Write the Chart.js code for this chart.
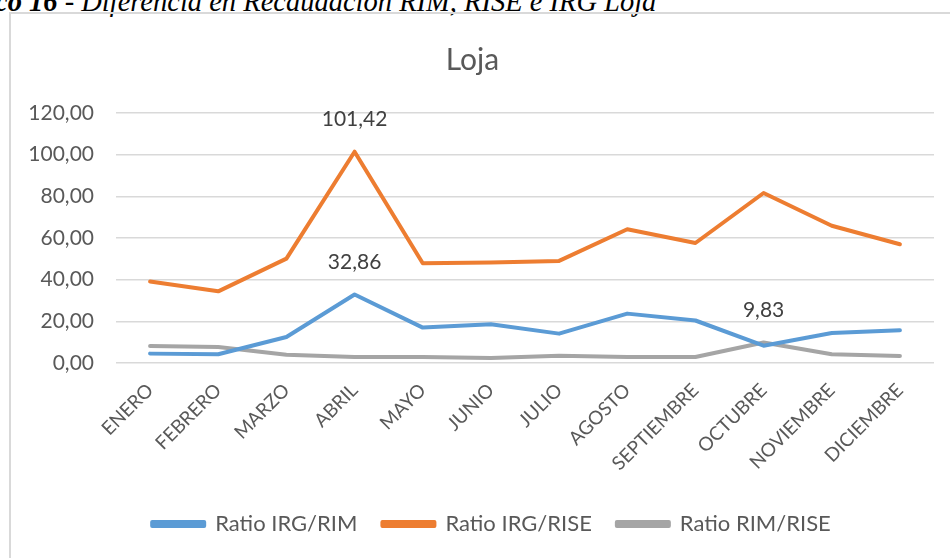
<!DOCTYPE html>
<html>
<head>
<meta charset="utf-8">
<script src="https://cdn.jsdelivr.net/npm/chart.js@4.4.1/dist/chart.umd.min.js"></script>
<style>
    body { margin: 0; background: #fff; width: 950px; height: 558px; overflow: hidden; position: relative; }
    #caption {
        position: absolute; left: -5px; top: -12px;
        font-family: "Liberation Serif", serif; font-style: italic; font-size: 28.5px; line-height: 28px;
        color: #000; white-space: nowrap;
    }
    #caption b { font-weight: bold; }
    #box {
        position: absolute; left: 9px; top: 12px;
        border-left: 2px solid #d9d9d9; border-top: 2px solid #d9d9d9;
    }
    canvas { display: block; }
</style>
</head>
<body>
<div id="caption"><b>co 16</b> - Diferencia en Recaudación RIM, RISE e IRG Loja</div>
<div id="box"><canvas id="lojaCanvas" width="939" height="544"></canvas></div>
<script>
// Categories (months)
const months = ['ENERO', 'FEBRERO', 'MARZO', 'ABRIL', 'MAYO', 'JUNIO', 'JULIO',
    'AGOSTO', 'SEPTIEMBRE', 'OCTUBRE', 'NOVIEMBRE', 'DICIEMBRE'];

// Series values
const ratioIrgRim = [4.5, 4.2, 12.5, 32.86, 17.0, 18.6, 14.1, 23.7, 20.4, 8.3, 14.4, 15.7];
const ratioIrgRise = [39.1, 34.4, 50.1, 101.42, 47.9, 48.2, 49.0, 64.2, 57.6, 81.6, 65.9, 57.0];
const ratioRimRise = [8.2, 7.7, 4.0, 2.9, 2.9, 2.4, 3.5, 2.9, 2.9, 9.83, 4.2, 3.4];

const seriesNames = ['Ratio IRG/RIM', 'Ratio IRG/RISE', 'Ratio RIM/RISE'];

// Points that carry a data label: [dataset index, month index]
const labeledPoints = [[1, 3], [0, 3], [2, 9]];

const textColor = '#595959';
const fontFamily = 'Lato, "Open Sans", sans-serif';

// Format numbers with comma decimals, like the source
function fmt(v) {
    return v.toFixed(2).replace('.', ',');
}

// Draw the few value labels above their points
const pointLabels = {
    id: 'pointLabels',
    afterLayout(chart) {
        // the source legend sits a little right of centre
        chart.legend.left += 19;
        chart.legend.right += 19;
    },
    afterDatasetsDraw(chart) {
        const ctx = chart.ctx;
        ctx.save();
        ctx.font = '21px ' + fontFamily;
        ctx.fillStyle = '#404040';
        ctx.textAlign = 'center';
        ctx.textBaseline = 'middle';
        labeledPoints.forEach(([ds, i]) => {
            const pt = chart.getDatasetMeta(ds).data[i];
            const value = chart.data.datasets[ds].data[i];
            ctx.fillText(fmt(value), pt.x, pt.y - 32);
        });
        ctx.restore();
    }
};

function makeDataset(label, data, color) {
    return {
        label: label,
        data: data,
        borderColor: color,
        backgroundColor: color,
        borderWidth: 4,
        pointRadius: 0,
        tension: 0,
        fill: false,
        borderCapStyle: 'round',
        borderJoinStyle: 'round'
    };
}

const ctx = document.getElementById('lojaCanvas').getContext('2d');
new Chart(ctx, {
    type: 'line',
    data: {
        labels: months,
        datasets: [
            makeDataset(seriesNames[0], ratioIrgRim, '#5B9BD5'),
            makeDataset(seriesNames[1], ratioIrgRise, '#ED7D31'),
            makeDataset(seriesNames[2], ratioRimRise, '#A5A5A5')
        ]
    },
    options: {
        responsive: false,
        animation: false,
        layout: { padding: { left: 0, right: 16, top: 0, bottom: 13 } },
        scales: {
            x: {
                offset: true,
                grid: { display: false },
                border: { display: false },
                ticks: {
                    color: textColor,
                    font: { family: fontFamily, size: 19 },
                    minRotation: 45,
                    maxRotation: 45,
                    padding: 8
                },
                afterFit(scale) { scale.height = 125; }
            },
            y: {
                min: 0,
                max: 120,
                grid: { color: '#d9d9d9', lineWidth: 1.5, drawTicks: false },
                border: { display: false },
                ticks: {
                    stepSize: 20,
                    color: textColor,
                    font: { family: fontFamily, size: 21 },
                    padding: 22,
                    callback: (v) => fmt(v)
                },
                afterFit(scale) { scale.width = 105; }
            }
        },
        plugins: {
            title: {
                display: true,
                text: 'Loja',
                color: textColor,
                font: { family: fontFamily, size: 30, weight: 'normal' },
                padding: { top: 28, bottom: 35 }
            },
            legend: {
                position: 'bottom',
                labels: {
                    color: textColor,
                    font: { family: fontFamily, size: 22 },
                    boxWidth: 52,
                    boxHeight: 4,
                    padding: 25
                }
            },
            tooltip: { enabled: false }
        }
    },
    plugins: [pointLabels]
});
</script>
</body>
</html>
